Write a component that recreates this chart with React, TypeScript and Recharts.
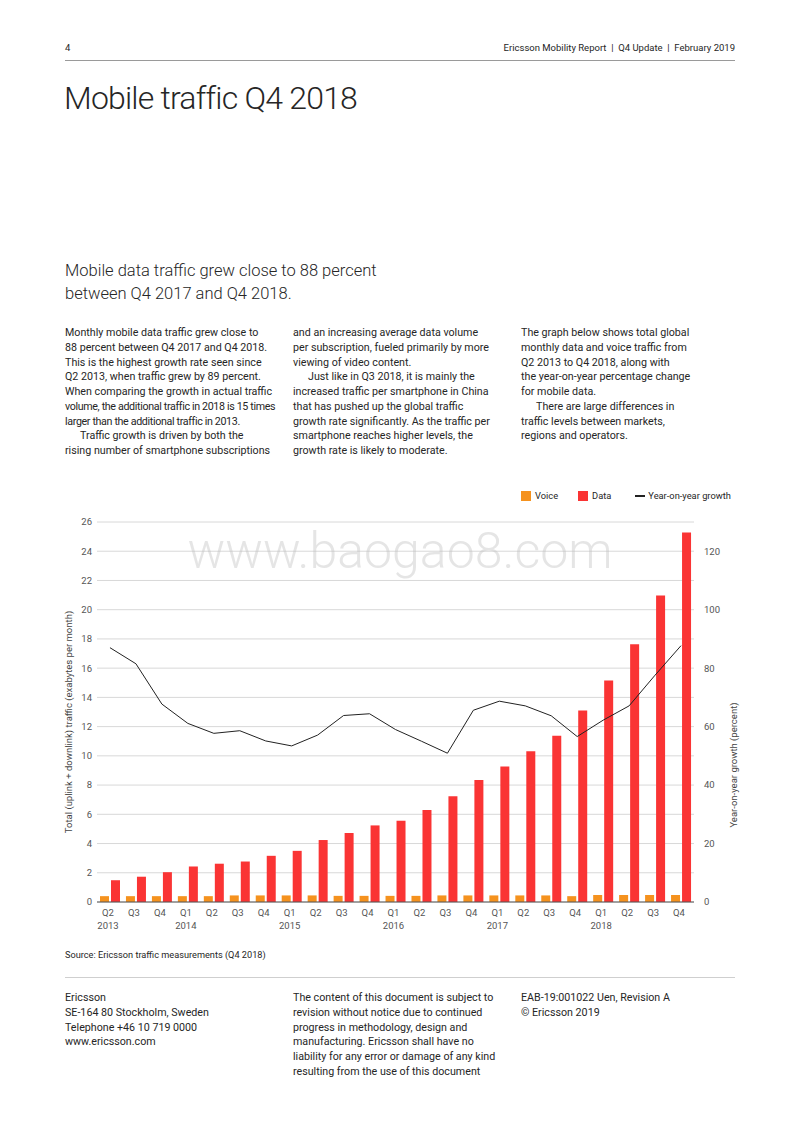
import React from "react";
import { ComposedChart, Bar, Line, XAxis, YAxis, CartesianGrid } from "recharts";

const quarters = ["Q2", "Q3", "Q4", "Q1", "Q2", "Q3", "Q4", "Q1", "Q2", "Q3", "Q4", "Q1", "Q2", "Q3", "Q4", "Q1", "Q2", "Q3", "Q4", "Q1", "Q2", "Q3", "Q4"];
const yearLabels = ["2013", "", "", "2014", "", "", "", "2015", "", "", "", "2016", "", "", "", "2017", "", "", "", "2018", "", "", ""];
const years = [2013, 2013, 2013, 2014, 2014, 2014, 2014, 2015, 2015, 2015, 2015, 2016, 2016, 2016, 2016, 2017, 2017, 2017, 2017, 2018, 2018, 2018, 2018];

// exabytes per month
const voiceTraffic = [0.4, 0.4, 0.4, 0.4, 0.4, 0.45, 0.45, 0.45, 0.45, 0.42, 0.42, 0.42, 0.42, 0.45, 0.45, 0.45, 0.45, 0.45, 0.4, 0.48, 0.48, 0.48, 0.48];
const dataTraffic = [1.49, 1.73, 2.04, 2.43, 2.62, 2.77, 3.16, 3.5, 4.24, 4.72, 5.24, 5.56, 6.29, 7.24, 8.35, 9.27, 10.31, 11.38, 13.1, 15.16, 17.64, 20.97, 25.29];
// percent
const yoyGrowth = [87, 81.5, 67.7, 61.1, 57.7, 58.6, 55.1, 53.4, 57.1, 63.8, 64.4, 59, 55, 50.9, 65.6, 68.7, 67.1, 63.7, 56.6, 62.2, 67.1, 77.6, 87.7];

const leftTicks = [0, 2, 4, 6, 8, 10, 12, 14, 16, 18, 20, 22, 24, 26];
const rightTicks = [0, 20, 40, 60, 80, 100, 120];

// ">" = indented first line, "~" = tightly set line
const col1 = [
  "Monthly mobile data traffic grew close to",
  "88 percent between Q4 2017 and Q4 2018.",
  "This is the highest growth rate seen since",
  "Q2 2013, when traffic grew by 89 percent.",
  "When comparing the growth in actual traffic",
  "~volume, the additional traffic in 2018 is 15 times",
  "~larger than the additional traffic in 2013.",
  ">Traffic growth is driven by both the",
  "rising number of smartphone subscriptions",
];
const col2 = [
  "and an increasing average data volume",
  "per subscription, fueled primarily by more",
  "viewing of video content.",
  ">Just like in Q3 2018, it is mainly the",
  "increased traffic per smartphone in China",
  "that has pushed up the global traffic",
  "growth rate significantly. As the traffic per",
  "smartphone reaches higher levels, the",
  "growth rate is likely to moderate.",
];
const col3 = [
  "The graph below shows total global",
  "monthly data and voice traffic from",
  "Q2 2013 to Q4 2018, along with",
  "the year-on-year percentage change",
  "for mobile data.",
  ">There are large differences in",
  "traffic levels between markets,",
  "regions and operators.",
];
const foot1 = ["Ericsson", "SE-164 80 Stockholm, Sweden", "Telephone +46 10 719 0000", "www.ericsson.com"];
const foot2 = [
  "The content of this document is subject to",
  "revision without notice due to continued",
  "progress in methodology, design and",
  "manufacturing. Ericsson shall have no",
  "liability for any error or damage of any kind",
  "resulting from the use of this document",
];
const foot3 = ["EAB-19:001022 Uen, Revision A", "© Ericsson 2019"];

const chartData = quarters.map((q, i) => ({
  key: q + " " + years[i],
  voice: voiceTraffic[i],
  data: dataTraffic[i],
  growth: yoyGrowth[i],
}));

const FONT = "Roboto, 'Noto Sans', sans-serif";
const VOICE = "#F5921E";
const DATA = "#FA3434";
const TEXT = "#262626";

const Lines = ({ lines, x, y }: { lines: string[]; x: number; y: number }) => (
  <div style={{ position: "absolute", left: x, top: y, fontSize: 10.7, lineHeight: "14.75px", color: TEXT, whiteSpace: "nowrap" }}>
    {lines.map((l, i) => {
      if (l.startsWith(">")) return <div key={i} style={{ paddingLeft: 15 }}>{l.slice(1)}</div>;
      if (l.startsWith("~")) return <div key={i} style={{ letterSpacing: -0.35 }}>{l.slice(1)}</div>;
      return <div key={i}>{l}</div>;
    })}
  </div>
);

const XTick = (props: any) => {
  const { x, y, index } = props;
  return (
    <g transform={`translate(${x},${y})`}>
      <text textAnchor="middle" fill="#555" fontSize={9.5} fontFamily={FONT}>
        <tspan x={-2} dy={10}>{quarters[index]}</tspan>
        <tspan x={-2} dy={12.5}>{yearLabels[index]}</tspan>
      </text>
    </g>
  );
};

const App = () => {
  return (
    <div style={{ position: "relative", width: 800, height: 1132, fontFamily: FONT, color: TEXT, background: "#fff", overflow: "hidden" }}>
      <style>{"body{margin:0}"}</style>

      <div style={{ position: "absolute", left: 65, top: 42, fontSize: 9.5, lineHeight: "12px" }}>4</div>
      <div style={{ position: "absolute", right: 65, top: 42, fontSize: 9.5, lineHeight: "12px", whiteSpace: "nowrap" }}>
        Ericsson Mobility Report&nbsp; |&nbsp; Q4 Update&nbsp; |&nbsp; February 2019
      </div>
      <div style={{ position: "absolute", left: 65, top: 60, width: 670, height: 1, background: "#9a9a9a" }} />

      <div style={{ position: "absolute", left: 64, top: 78, fontSize: 32, lineHeight: "40px", fontWeight: 300, letterSpacing: -0.8, whiteSpace: "nowrap" }}>
        Mobile traffic Q4 2018
      </div>

      <div style={{ position: "absolute", left: 65, top: 259, fontSize: 16.5, lineHeight: "23px", fontWeight: 300, whiteSpace: "nowrap" }}>
        <div>Mobile data traffic grew close to 88 percent</div>
        <div>between Q4 2017 and Q4 2018.</div>
      </div>

      <Lines lines={col1} x={65} y={326} />
      <Lines lines={col2} x={293} y={326} />
      <Lines lines={col3} x={521} y={326} />

      <div style={{ position: "absolute", left: 521, top: 490, display: "flex", alignItems: "center", fontSize: 9.3, lineHeight: "12px", whiteSpace: "nowrap" }}>
        <span style={{ width: 10, height: 10, background: VOICE, display: "inline-block", marginRight: 4 }} />
        <span style={{ marginRight: 20 }}>Voice</span>
        <span style={{ width: 10, height: 10, background: DATA, display: "inline-block", marginRight: 4 }} />
        <span style={{ marginRight: 24 }}>Data</span>
        <span style={{ width: 10, height: 2, background: "#222", display: "inline-block", marginRight: 3 }} />
        <span>Year-on-year growth</span>
      </div>

      <div style={{ position: "absolute", left: 0, top: 500 }}>
        <ComposedChart
          width={800}
          height={450}
          data={chartData}
          margin={{ top: 22, right: 66, bottom: 8, left: 67 }}
          barSize={9}
          barGap={2}
        >
          <CartesianGrid yAxisId="left" vertical={false} stroke="#d8d8d8" strokeWidth={1} />
          <XAxis
            dataKey="key"
            height={40}
            interval={0}
            tick={<XTick />}
            tickLine={false}
            tickSize={0}
            tickMargin={4}
            axisLine={{ stroke: "#555" }}
          />
          <YAxis
            yAxisId="left"
            width={30}
            domain={[0, 26]}
            ticks={leftTicks}
            interval={0}
            axisLine={false}
            tickLine={false}
            tickSize={0}
            tickMargin={5}
            tick={{ fill: "#555", fontSize: 9.5, fontFamily: FONT }}
          />
          <YAxis
            yAxisId="right"
            orientation="right"
            width={40}
            domain={[0, 130]}
            ticks={rightTicks}
            interval={0}
            axisLine={false}
            tickLine={false}
            tickSize={0}
            tickMargin={10}
            tick={{ fill: "#555", fontSize: 9.5, fontFamily: FONT, textAnchor: "start" }}
          />
          <Bar yAxisId="left" dataKey="voice" name="Voice" fill={VOICE} isAnimationActive={false} />
          <Bar yAxisId="left" dataKey="data" name="Data" fill={DATA} isAnimationActive={false} />
          <Line
            yAxisId="right"
            type="linear"
            dataKey="growth"
            name="Year-on-year growth"
            stroke="#222"
            strokeWidth={1}
            dot={false}
            isAnimationActive={false}
          />
        </ComposedChart>
      </div>

      <div style={{ position: "absolute", left: 400, top: 522, transform: "translateX(-50%)", fontSize: 50, fontWeight: 300, color: "rgba(190,190,190,0.4)", whiteSpace: "nowrap", pointerEvents: "none" }}>
        www.baogao8.com
      </div>

      <div style={{ position: "absolute", left: 68, top: 722, transform: "translate(-50%,-50%) rotate(-90deg)", fontSize: 9.5, color: "#444", whiteSpace: "nowrap" }}>
        Total (uplink + downlink) traffic (exabytes per month)
      </div>
      <div style={{ position: "absolute", left: 733, top: 765, transform: "translate(-50%,-50%) rotate(-90deg)", fontSize: 9.5, color: "#444", whiteSpace: "nowrap" }}>
        Year-on-year growth (percent)
      </div>

      <div style={{ position: "absolute", left: 65, top: 949, fontSize: 9.2, lineHeight: "12px", whiteSpace: "nowrap" }}>
        Source: Ericsson traffic measurements (Q4 2018)
      </div>
      <div style={{ position: "absolute", left: 65, top: 977, width: 670, height: 1, background: "#cfcfcf" }} />

      <Lines lines={foot1} x={65} y={991} />
      <Lines lines={foot2} x={293} y={991} />
      <Lines lines={foot3} x={521} y={991} />
    </div>
  );
};

export default App;
